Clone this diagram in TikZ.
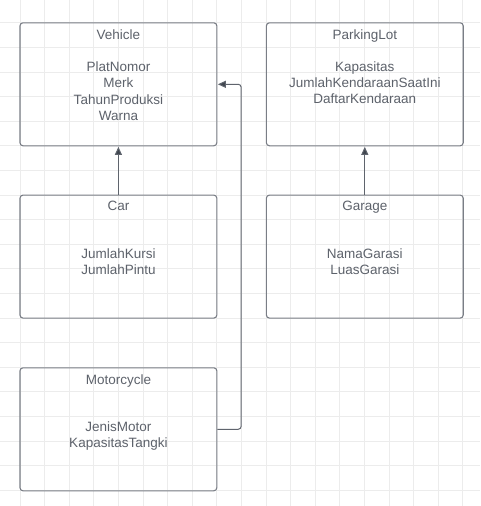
\documentclass[tikz,border=0pt]{standalone}
\usepackage{fontspec}
\setmainfont{Liberation Sans}
\usetikzlibrary{arrows.meta}
\definecolor{gridc}{HTML}{ECECEC}
\definecolor{boxc}{HTML}{7A7E86}
\definecolor{txtc}{HTML}{5D626B}
\definecolor{linec}{HTML}{5F646D}
\definecolor{arrc}{HTML}{3F454E}
\begin{document}
\begin{tikzpicture}[x=1pt,y=-1pt,
  gridline/.style={gridc, line width=0.8pt},
  cls/.style={draw=boxc, line width=1.1pt, rounded corners=3pt, fill=none, minimum width=196.8pt, minimum height=123pt, inner sep=0pt},
  txt/.style={text=txtc, font=\fontsize{13.5}{16.3}\selectfont, align=center, inner sep=0pt, anchor=north},
  conn/.style={draw=linec, line width=1pt, -{Triangle[length=8pt,width=7pt,fill=arrc]}, shorten >=0.5pt}
]
\useasboundingbox (0,0) rectangle (480,506);
\fill[white] (0,0) rectangle (480,506);
\foreach \k in {-1,...,19} {
  \pgfmathsetmacro\xx{20+24.6*\k}
  \draw[gridline] (\xx,0) -- (\xx,506);
}
\foreach \k in {-1,...,19} {
  \pgfmathsetmacro\yy{22.7+24.6*\k}
  \draw[gridline] (0,\yy) -- (480,\yy);
}
% boxes
\node[cls] (veh) at (118.4,84.3) {};
\node[cls] (pl) at (364.8,84.3) {};
\node[cls] (car) at (118.4,256.6) {};
\node[cls] (gar) at (364.8,256.6) {};
\node[cls] (moto) at (118.4,429.3) {};
% titles
\node[txt] (vehT) at ([yshift=-6.8pt]veh.north) {Vehicle};
\node[txt] (plT) at ([yshift=-6.8pt]pl.north) {ParkingLot};
\node[txt] (carT) at ([yshift=-6.8pt]car.north) {Car};
\node[txt] (garT) at ([yshift=-6.8pt]gar.north) {Garage};
\node[txt] (motoT) at ([yshift=-6.8pt]moto.north) {Motorcycle};
% attributes
\node[txt] (vehA) at ([yshift=-39.2pt]veh.north) {PlatNomor\\Merk\\TahunProduksi\\Warna};
\node[txt] (plA) at ([yshift=-39pt]pl.north) {Kapasitas\\JumlahKendaraanSaatIni\\DaftarKendaraan};
\node[txt] (carA) at ([yshift=-53.8pt]car.north) {JumlahKursi\\JumlahPintu};
\node[txt] (garA) at ([yshift=-53.8pt]gar.north) {NamaGarasi\\LuasGarasi};
\node[txt] (motoA) at ([yshift=-53.8pt]moto.north) {JenisMotor\\KapasitasTangki};
% connectors
\draw[conn] (car.north) -- (veh.south);
\draw[conn] (gar.north) -- (pl.south);
\coordinate (bendx) at (241.2,0);
\draw[conn, rounded corners=3pt] (moto.east) -- (moto.east -| bendx) |- (veh.east);
\end{tikzpicture}
\end{document}
